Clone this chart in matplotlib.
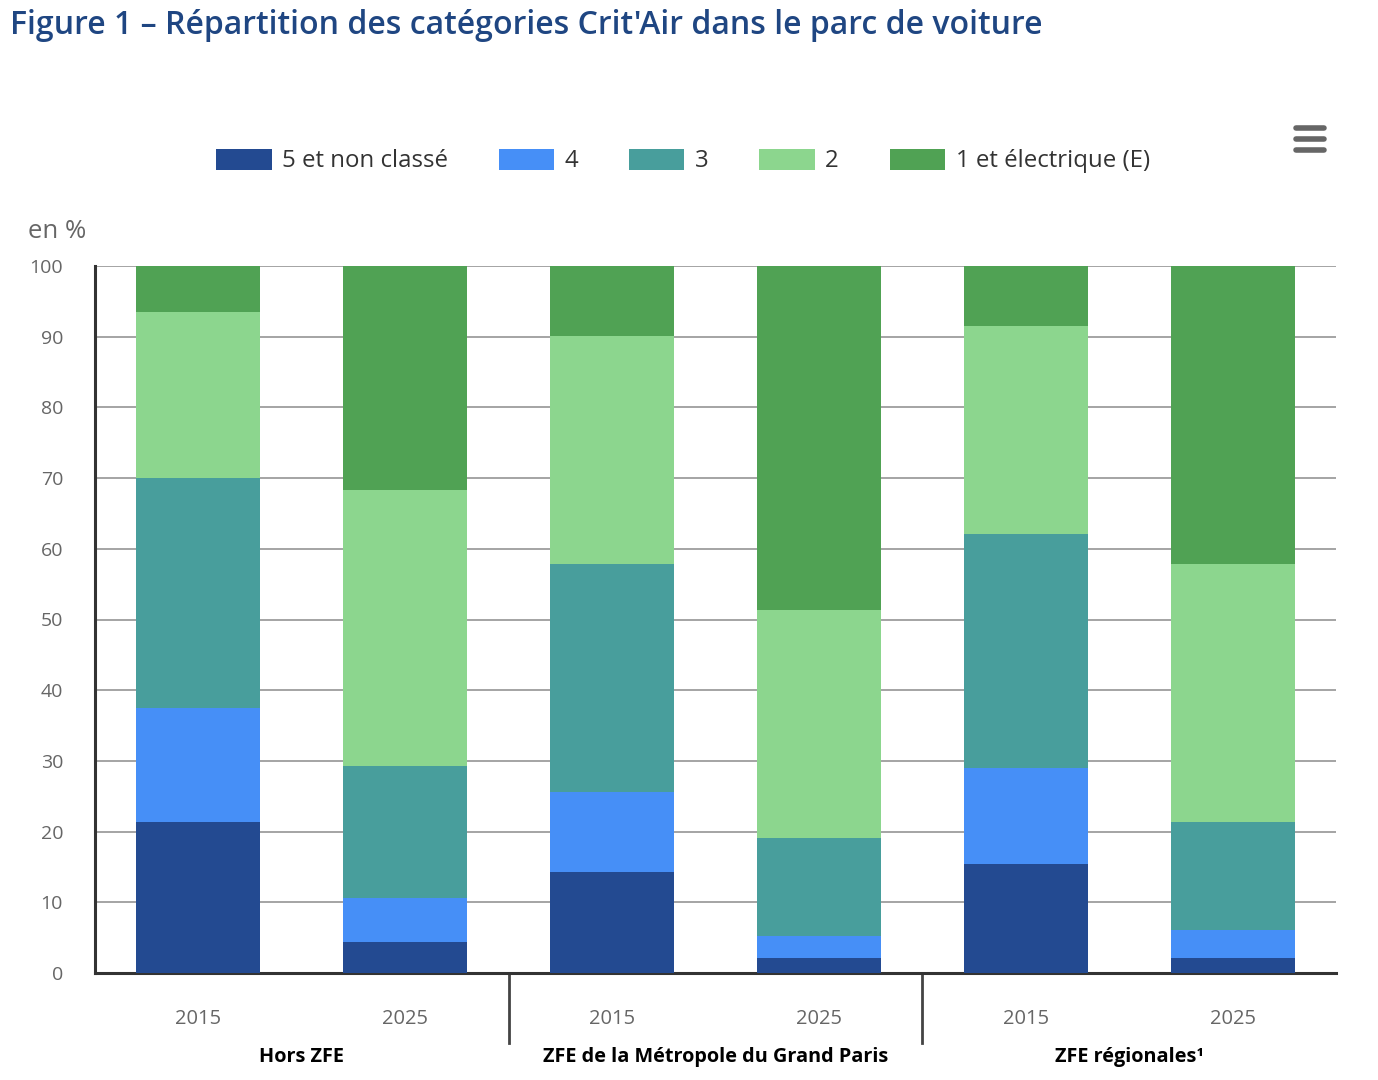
import numpy as np
import matplotlib
matplotlib.use('Agg')
import matplotlib.pyplot as plt
from matplotlib.lines import Line2D
import matplotlib.transforms as mtransforms

plt.rcParams['font.family'] = ['Open Sans', 'DejaVu Sans']

years = ['2015', '2025', '2015', '2025', '2015', '2025']
groups = ['Hors ZFE', 'ZFE de la Métropole du Grand Paris', 'ZFE régionales¹']
series_names = ['5 et non classé', '4', '3', '2', '1 et électrique (E)']
colors = ['#234a91', '#468ff7', '#489e9c', '#8cd68e', '#50a254']

crit5 = [21.4, 4.4, 14.3, 2.1, 15.4, 2.1]
crit4 = [16.1, 6.2, 11.3, 3.1, 13.6, 4.0]
crit3 = [32.5, 18.7, 32.3, 13.9, 33.1, 15.3]
crit2 = [23.5, 39.0, 32.2, 32.2, 29.4, 36.5]
crit1 = [6.5, 31.7, 9.9, 48.7, 8.5, 42.1]

W, H = 1378, 1080
fig = plt.figure(figsize=(W / 100, H / 100), dpi=100)
ax = fig.add_axes([95 / W, 1 - 973 / H, (1336 - 95) / W, (973 - 266) / H])

x = np.arange(len(years))
bottom = np.zeros(len(years))
for name, vals, c in zip(series_names, [crit5, crit4, crit3, crit2, crit1], colors):
    ax.bar(x, vals, 0.6, bottom=bottom, color=c, label=name, zorder=3)
    bottom += np.array(vals)

ax.set_xlim(-0.5, len(years) - 0.5)
ax.set_ylim(0, 100)
ax.set_yticks(range(0, 101, 10))
ax.yaxis.grid(True, color='#8c8c8c', linewidth=1.1, zorder=0)
ax.set_axisbelow(True)
for s in ['top', 'right']:
    ax.spines[s].set_visible(False)
ax.spines['left'].set_color('#333333')
ax.spines['left'].set_linewidth(2.2)
ax.spines['bottom'].set_color('#333333')
ax.spines['bottom'].set_linewidth(2.2)
ax.tick_params(axis='y', length=0, pad=23, labelsize=14, labelcolor='#666666')
ax.tick_params(axis='x', length=0, pad=26, labelsize=14.5, labelcolor='#666666')
ax.set_xticks(x)
ax.set_xticklabels(years)

# separateurs de groupes
trans = mtransforms.blended_transform_factory(ax.transData, ax.transAxes)
for b in [1.5, 3.5]:
    ax.plot([b, b], [0, -0.099], transform=trans, color='#444444', linewidth=2, clip_on=False)
for i, g in enumerate(groups):
    ax.text(2 * i + 0.5, -0.119, g, transform=trans, ha='center', va='center',
            fontsize=14.3, fontweight='bold', color='black')

fig.text(10 / W, 1 - 25 / H, "Figure 1 – Répartition des catégories Crit'Air dans le parc de voiture",
         ha='left', va='center', fontsize=23, fontweight='semibold', color='#1f4682')
fig.text(28 / W, 1 - 232 / H, 'en %', ha='left', va='center', fontsize=18.5, color='#666666')

fig.legend(loc='center', bbox_to_anchor=(683 / W, 1 - 161 / H), ncol=5, frameon=False,
           fontsize=17.3, handlelength=2.3, handleheight=1.0, handletextpad=0.45,
           columnspacing=2.1, labelcolor='#333333')

# icone menu
for yy in [128, 139, 150]:
    fig.add_artist(Line2D([1296 / W, 1324 / W], [1 - yy / H, 1 - yy / H], color='#666666',
                          linewidth=4, solid_capstyle='round'))

fig.savefig('out.png', dpi=100)
